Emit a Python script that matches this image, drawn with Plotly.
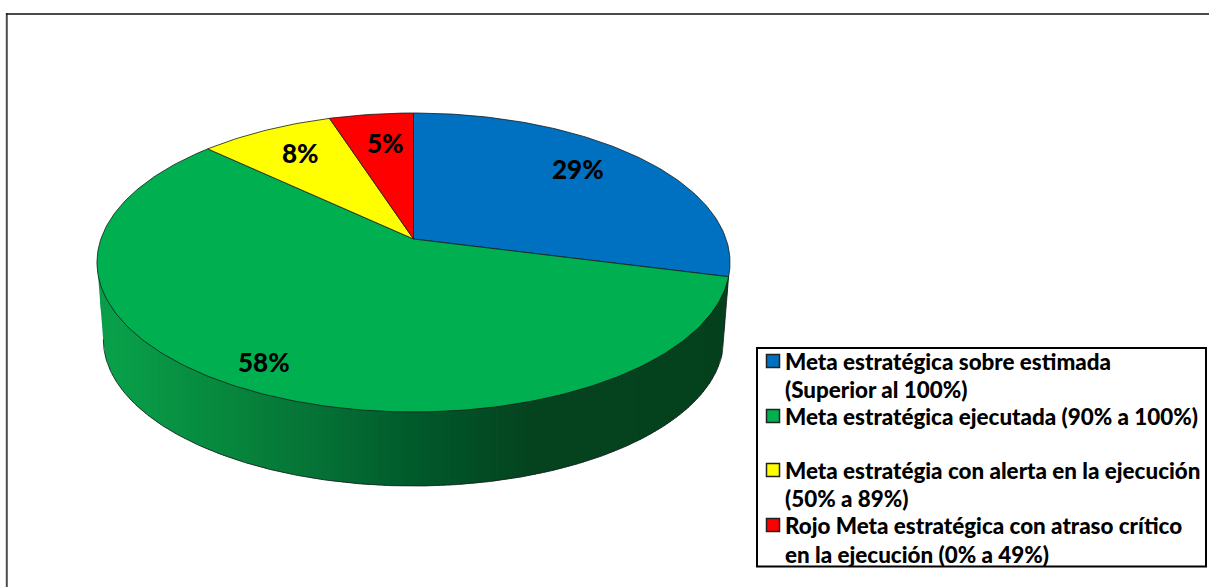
import numpy as np
import plotly.graph_objects as go

# Data
categories = ["Meta estratégica sobre estimada", "Meta estratégica ejecutada",
              "Meta estratégia con alerta en la ejecución", "Rojo Meta estratégica con atraso crítico"]
values = [29, 58, 8, 5]
colors = ["#0070C0", "#00B050", "#FFFF00", "#FF0000"]
legend_lines = [
    ["Meta estratégica sobre estimada", "(Superior al 100%)"],
    ["Meta estratégica ejecutada (90% a 100%)"],
    ["Meta estratégia con alerta en la ejecución", "(50% a 89%)"],
    ["Rojo Meta estratégica con atraso crítico", "en la ejecución (0% a 49%)"],
]
# Layout (pixel coordinates on the page-sized axes)
label_pos = [(578, 169), (264, 362), (300, 153), (385, 143)]
swatch_y = [361, 416, 470, 525]
line_y = [[361, 389.5], [416.5], [470.5, 498], [525.5, 554]]
side_x = [100, 113, 213, 313, 413, 533, 740]
side_r = [10, 9, 7, 6, 0, 5, 4]
side_g = [155, 160, 138, 115, 90, 67, 64]
side_b = [72, 74, 62, 54, 43, 31, 28]

CX, CY, R, S, K = 413.5, 239.0, 312.6, 145.8, 0.1572
DROP, SHRINK = 316.5, 0.98
OUTLINE = "rgba(20,30,30,0.8)"
FONT = "Lato"


def ring(deg, top=True):
    t = np.radians(deg)
    u, v = np.sin(t), np.cos(t)
    w = 1 + K * v
    x, y = R * u / w, -S * v / w
    if top:
        return CX + x, CY + y
    return CX + SHRINK * x, DROP + SHRINK * y


def side_color(x):
    return "rgb({:.0f},{:.0f},{:.0f})".format(
        np.interp(x, side_x, side_r), np.interp(x, side_x, side_g), np.interp(x, side_x, side_b))


fig = go.Figure()
common = dict(hoverinfo="skip", showlegend=False, mode="lines")

bounds = np.cumsum([0] + values) / sum(values) * 360

# Side wall of the green slice, shaded in vertical bands
a0 = bounds[1]
arc = np.arange(a0, 300, 0.25)
xt_all, yt_all = ring(arc)
xb_all, yb_all = ring(arc, top=False)
left_t = int(np.argmin(xt_all))
left_b = int(np.argmin(xb_all))
upper_x, upper_y = xt_all[:left_t + 1][::-1], yt_all[:left_t + 1][::-1]
lower_x = np.concatenate([[upper_x[0]], xb_all[:left_b + 1][::-1], [xt_all[0]]])
lower_y = np.concatenate([[upper_y[0]], yb_all[:left_b + 1][::-1], [yt_all[0]]])
cols = np.arange(upper_x[0], upper_x[-1], 3.0)
for x0 in cols:
    xs = np.array([x0, x0 + 2, x0 + 4])
    xs = np.clip(xs, upper_x[0], upper_x[-1])
    top = np.interp(xs, upper_x, upper_y) - 3
    bot = np.interp(xs, lower_x, lower_y)
    c = side_color(x0 + 1.5)
    fig.add_trace(go.Scatter(x=[*xs, *xs[::-1], xs[0]], y=[*top, *bot[::-1], top[0]], fill="toself",
                             fillcolor=c, line=dict(color=c, width=0), **common))
# Side wall outline
fig.add_trace(go.Scatter(x=lower_x[1:], y=lower_y[1:], line=dict(color=OUTLINE, width=1), **common))

# Top face
for i, (v, c) in enumerate(zip(values, colors)):
    arc = np.linspace(bounds[i], bounds[i + 1], int(v * 4) + 2)
    x, y = ring(arc)
    fig.add_trace(go.Scatter(x=[CX, *x, CX], y=[CY, *y, CY], fill="toself", fillcolor=c,
                             line=dict(color=OUTLINE, width=1), name=categories[i],
                             hoverinfo="skip", showlegend=False, mode="lines"))

# Frame
fig.add_trace(go.Scatter(x=[6.8, 6.8], y=[587, 13.2], line=dict(color="#4d4d4d", width=2), **common))
fig.add_trace(go.Scatter(x=[6, 1209], y=[13.9, 13.9], line=dict(color="#111111", width=1.5), **common))

annotations = []
for v, (x, y) in zip(values, label_pos):
    annotations.append(dict(x=x, y=y, text=f"{v}%", showarrow=False, xref="x", yref="y",
                            xanchor="center", yanchor="middle",
                            font=dict(family=FONT, size=26, color="black", weight=900)))
for lines, ys in zip(legend_lines, line_y):
    for t, y in zip(lines, ys):
        annotations.append(dict(x=782.5, y=y, text=t, showarrow=False, xref="x", yref="y",
                                xanchor="left", yanchor="middle",
                                font=dict(family=FONT, size=22.4, color="black", weight=900)))

# Legend swatches
fig.add_trace(go.Scatter(x=[773] * 4, y=swatch_y, mode="markers", hoverinfo="skip", showlegend=False,
                         marker=dict(symbol="square", size=13, color=colors,
                                     line=dict(color="#222222", width=1.5))))

fig.update_layout(
    width=1209, height=587, margin=dict(l=0, r=0, t=0, b=0),
    paper_bgcolor="white", plot_bgcolor="white",
    xaxis=dict(range=[0, 1209], visible=False, fixedrange=True),
    yaxis=dict(range=[587, 0], visible=False, fixedrange=True),
    annotations=annotations,
    shapes=[dict(type="rect", xref="x", yref="y", x0=757, x1=1206, y0=348, y1=566.5,
                 line=dict(color="black", width=2), layer="below")],
)
fig.write_html("out.html", config=dict(displayModeBar=False),
               post_script="document.body.style.margin='0';document.body.style.overflow='hidden';")
